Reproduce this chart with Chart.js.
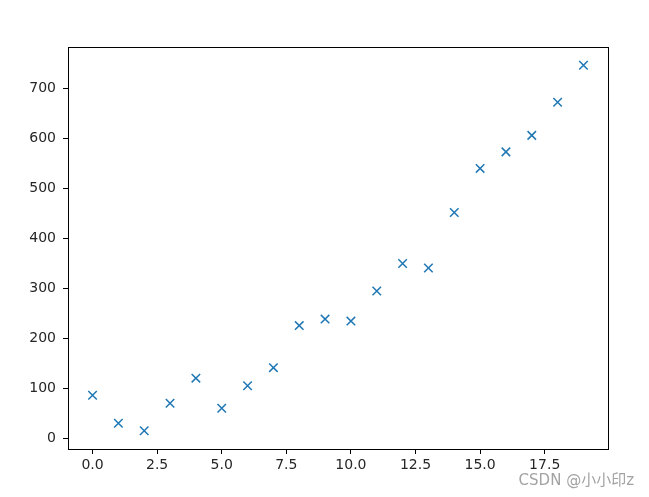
<!DOCTYPE html>
<html><head><meta charset="utf-8">
<script src="https://cdn.jsdelivr.net/npm/chart.js@4"></script>
<style>html,body{margin:0;padding:0;background:#fff}#wrap{width:649px;height:497px}</style>
</head><body><div id="wrap"><canvas id="c" width="649" height="497"></canvas></div>
<script>
const xValues = [0,1,2,3,4,5,6,7,8,9,10,11,12,13,14,15,16,17,18,19];
const yValues = [87,31,16,71,121,61,106,142,226,239,235,295,350,341,452,540,573,606,672,746];
const xTicks = [0,2.5,5,7.5,10,12.5,15,17.5];
const yTicks = [0,100,200,300,400,500,600,700];
const watermark = 'CSDN @小小印z';

const pts = xValues.map((x,i)=>({x:x,y:yValues[i]}));
const ymin = Math.min(...yValues), ymax = Math.max(...yValues);
const ym = (ymax-ymin)*0.05;
const xmin = Math.min(...xValues), xmax = Math.max(...xValues);
const xm = (xmax-xmin)*0.05;

const frame = {
  id:'frame',
  afterDraw(chart){
    const {ctx, chartArea:a} = chart;
    ctx.save();
    ctx.strokeStyle='#000'; ctx.lineWidth=1;
    ctx.strokeRect(Math.round(a.left)+0.5, Math.round(a.top)+0.5, Math.round(a.right-a.left), Math.round(a.bottom-a.top));
    ctx.fillStyle='#a3a3a3';
    ctx.font='15px "DejaVu Sans", "Noto Sans CJK SC", sans-serif';
    ctx.textAlign='right'; ctx.textBaseline='alphabetic';
    ctx.fillText(watermark, 634, 485);
    ctx.restore();
  }
};

const tickFont = {family:'"DejaVu Sans", sans-serif', size:14};
new Chart(document.getElementById('c'), {
  type:'scatter',
  data:{datasets:[{data:pts, pointStyle:'crossRot', radius:6, hoverRadius:6,
    borderColor:'#1f77b4', backgroundColor:'#1f77b4', borderWidth:1.5}]},
  options:{
    responsive:false, animation:false,
    layout:{padding:{top:47,right:41,left:0,bottom:0}},
    plugins:{legend:{display:false}, tooltip:{enabled:false}},
    scales:{
      x:{type:'linear', min:xmin-xm, max:xmax+xm,
        afterBuildTicks(s){ s.ticks = xTicks.map(v=>({value:v})); },
        afterFit(s){ s.height = 48; },
        grid:{drawOnChartArea:false, drawTicks:true, tickLength:5, color:'#000'},
        border:{display:true, color:'#000'},
        ticks:{font:tickFont, color:'#262626', padding:3, maxRotation:0, autoSkip:false,
          callback:v=>v.toFixed(1)}},
      y:{type:'linear', min:ymin-ym, max:ymax+ym,
        afterBuildTicks(s){ s.ticks = yTicks.map(v=>({value:v})); },
        afterFit(s){ s.width = 68; },
        grid:{drawOnChartArea:false, drawTicks:true, tickLength:5, color:'#000'},
        border:{display:true, color:'#000'},
        ticks:{font:tickFont, color:'#262626', padding:7, autoSkip:false,
          callback:v=>String(v)}}
    }
  },
  plugins:[frame]
});
</script></body></html>
